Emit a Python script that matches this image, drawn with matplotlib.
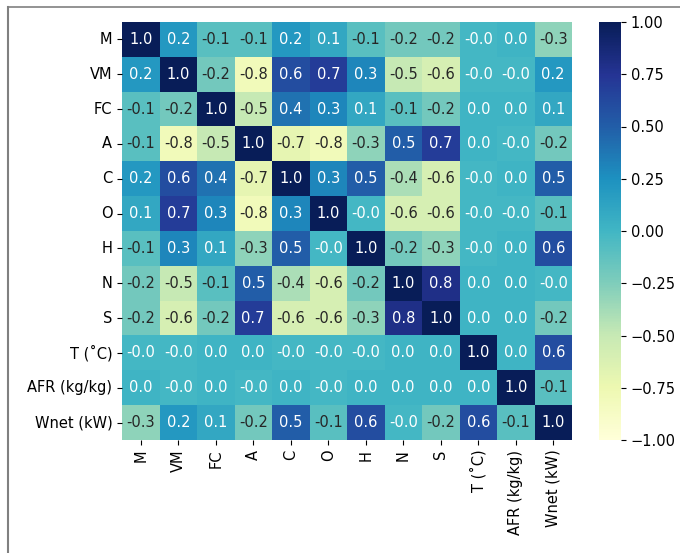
"""
Correlation heatmap of fuel properties, operating conditions and net power.
"""
import numpy as np
import matplotlib
matplotlib.use("Agg")
import matplotlib.pyplot as plt
import seaborn as sns

labels = ["M", "VM", "FC", "A", "C", "O", "H", "N", "S",
          "T (˚C)", "AFR (kg/kg)", "Wnet (kW)"]

# correlation values (-0.01 / 0.01 keep the sign of "-0.0" / "0.0")
row_M = [1.0, 0.2, -0.1, -0.1, 0.2, 0.1, -0.1, -0.2, -0.2, -0.01, 0.01, -0.3]
row_VM = [0.2, 1.0, -0.2, -0.8, 0.6, 0.7, 0.3, -0.5, -0.6, -0.01, -0.01, 0.2]
row_FC = [-0.1, -0.2, 1.0, -0.5, 0.4, 0.3, 0.1, -0.1, -0.2, 0.01, 0.01, 0.1]
row_A = [-0.1, -0.8, -0.5, 1.0, -0.7, -0.8, -0.3, 0.5, 0.7, 0.01, -0.01, -0.2]
row_C = [0.2, 0.6, 0.4, -0.7, 1.0, 0.3, 0.5, -0.4, -0.6, -0.01, 0.01, 0.5]
row_O = [0.1, 0.7, 0.3, -0.8, 0.3, 1.0, -0.01, -0.6, -0.6, -0.01, -0.01, -0.1]
row_H = [-0.1, 0.3, 0.1, -0.3, 0.5, -0.01, 1.0, -0.2, -0.3, -0.01, 0.01, 0.6]
row_N = [-0.2, -0.5, -0.1, 0.5, -0.4, -0.6, -0.2, 1.0, 0.8, 0.01, 0.01, -0.01]
row_S = [-0.2, -0.6, -0.2, 0.7, -0.6, -0.6, -0.3, 0.8, 1.0, 0.01, 0.01, -0.2]
row_T = [-0.01, -0.01, 0.01, 0.01, -0.01, -0.01, -0.01, 0.01, 0.01, 1.0, 0.01, 0.6]
row_AFR = [0.01, -0.01, 0.01, -0.01, 0.01, -0.01, 0.01, 0.01, 0.01, 0.01, 1.0, -0.1]
row_Wnet = [-0.3, 0.2, 0.1, -0.2, 0.5, -0.1, 0.6, -0.01, -0.2, 0.6, -0.1, 1.0]


def main():
    corr = np.array([row_M, row_VM, row_FC, row_A, row_C, row_O, row_H,
                     row_N, row_S, row_T, row_AFR, row_Wnet])

    fig = plt.figure(figsize=(6.8, 5.53), dpi=100)
    ax = fig.add_axes([122 / 680, 1 - 440 / 553, 450 / 680, 418 / 553])
    cax = fig.add_axes([599 / 680, 1 - 440 / 553, 22 / 680, 418 / 553])

    sns.heatmap(corr, ax=ax, cbar_ax=cax, cmap="YlGnBu", vmin=-1, vmax=1,
                annot=True, fmt=".1f", annot_kws={"size": 10.5},
                xticklabels=labels, yticklabels=labels)
    ax.tick_params(labelsize=10.5)
    plt.setp(ax.get_xticklabels(), rotation=90)
    plt.setp(ax.get_yticklabels(), rotation=0)
    cax.tick_params(labelsize=10.5)
    cax.set_yticks(np.arange(-1, 1.01, 0.25))

    # thin gray frame around the picture (top and left edges)
    fig.add_artist(plt.Line2D([8 / 680, 1], [1 - 7 / 553, 1 - 7 / 553],
                              color="gray", lw=1.2, transform=fig.transFigure))
    fig.add_artist(plt.Line2D([8 / 680, 8 / 680], [0, 1 - 7 / 553],
                              color="gray", lw=1.5, transform=fig.transFigure))

    fig.savefig("out.png", dpi=100)


if __name__ == "__main__":
    main()
